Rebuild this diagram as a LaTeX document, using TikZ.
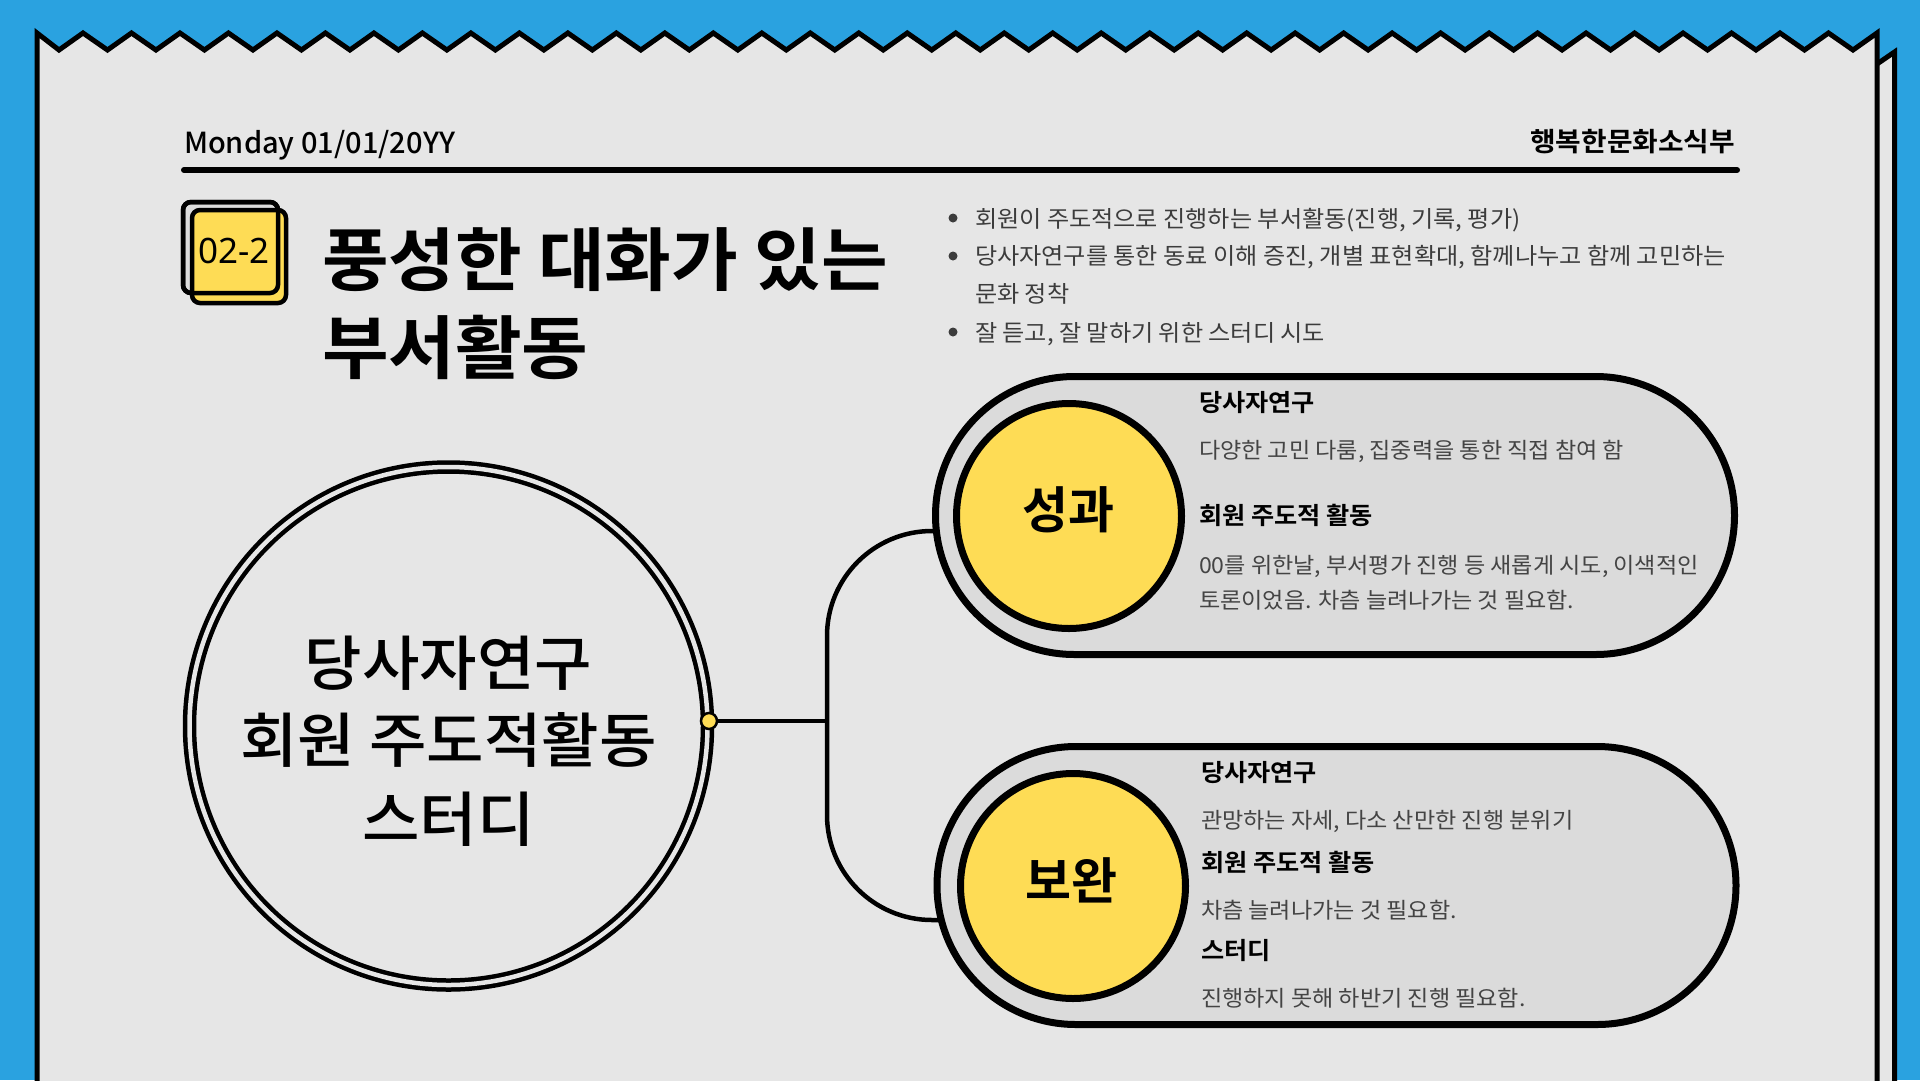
\documentclass[tikz,border=0pt]{standalone}
\usepackage{fontspec}
\setmainfont{Noto Sans CJK KR}
\newfontfamily\krreg{Noto Sans CJK KR}[FakeStretch=1.05]
\newfontfamily\krmed{Noto Sans CJK KR Medium}
\newfontfamily\krmedw{Noto Sans CJK KR Medium}[FakeStretch=1.05]
\newfontfamily\krbold{Noto Sans CJK KR Bold}
\newfontfamily\krboldw{Noto Sans CJK KR Bold}[FakeStretch=1.05]
\newfontfamily\latinsans{Noto Sans}
\usetikzlibrary{shapes.misc}
\definecolor{bgblue}{HTML}{2AA2E0}
\definecolor{paper}{HTML}{E6E6E6}
\definecolor{pillgrey}{HTML}{DBDBDB}
\definecolor{badgegrey}{HTML}{DCDCDC}
\definecolor{sunny}{HTML}{FEDC55}
\definecolor{bodytext}{HTML}{3C3C3C}
\definecolor{pilltext}{HTML}{444444}
\newcommand\fsz[1]{\fontsize{#1}{#1}\selectfont}
\begin{document}
\begin{tikzpicture}[x=1pt,y=-1pt,
  paperline/.style={draw=black,line width=5pt,line join=miter,fill=paper},
  txt/.style={inner sep=0pt,outer sep=0pt},
  badgebox/.style={draw=black,line width=4.5pt,rounded corners=8pt},
  bullettxt/.style={txt,anchor=base west,text=bodytext,font=\krreg\fsz{23}},
  pillhead/.style={txt,anchor=base west,text=black,font=\krboldw\fsz{24}},
  pillbody/.style={txt,anchor=base west,text=pilltext,font=\krreg\fsz{22}},
  pillbox/.style={rounded rectangle,draw=black,line width=7pt,fill=pillgrey,
    minimum width=799pt,minimum height=278pt,inner sep=0pt},
  yellowdisc/.style={circle,draw=black,line width=7pt,fill=sunny,minimum size=225pt,inner sep=0pt},
  bigtxt/.style={txt,anchor=base,text=black,font=\krmedw\fsz{59.5}},
  wire/.style={draw=black,line width=4.5pt}
]
\useasboundingbox (0,0) rectangle (1920,1080);
\fill[bgblue] (0,0) rectangle (1920,1080);

% back sheet
\draw[paperline] (1877,64) -- (1894.5,52) -- (1894.5,1095) -- (1877,1095);
% front sheet with zigzag top
\draw[paperline] (37,33)
  \foreach \k in {0,...,36} { -- ({59+48.486*\k},50) -- ({83+48.486*\k},33) }
  -- (1853,50) -- (1877,33) -- (1877,1095) -- (37,1095) -- cycle;

% header
\node[txt,anchor=base west,font=\krmed\fsz{29}] (date) at (184,153) {Monday 01/01/20YY};
\node[txt,anchor=base east,font=\krboldw\fsz{26.5}] (dept) at (1735,151.5) {행복한문화소식부};
\draw[line width=6pt,line cap=round] (184,170) -- (1737,170);

% badge
\draw[badgebox,fill=badgegrey] (183,202) rectangle (278,293);
\draw[badgebox,fill=sunny] (192,210) rectangle (286,303);
\draw[badgebox] (183,202) rectangle (278,293);
\node[txt,font=\latinsans\fsz{35}] (badge) at (234,251) {02-2};

% title
\node[txt,anchor=base west,font=\krboldw\fsz{69}] (title1) at (322,285) {풍성한 대화가 있는};
\node[txt,anchor=base west,font=\krboldw\fsz{69}] (title2) at (322,373) {부서활동};

% bullets
\fill[bodytext] (953,218) circle (4.5pt);
\fill[bodytext] (953,256) circle (4.5pt);
\fill[bodytext] (953,332) circle (4.5pt);
\node[bullettxt] (l1) at (975,227) {회원이 주도적으로 진행하는 부서활동(진행, 기록, 평가)};
\node[bullettxt] (l2) at (975,264) {당사자연구를 통한 동료 이해 증진, 개별 표현확대, 함께나누고 함께 고민하는};
\node[bullettxt] (l3) at (975,302) {문화 정착};
\node[bullettxt] (l4) at (975,341) {잘 듣고, 잘 말하기 위한 스터디 시도};

% main circle
\node[circle,draw=black,line width=4.5pt,double=paper,double distance=4.5pt,fill=paper,
  minimum size=518pt,inner sep=0pt] (main) at (448.5,726) {};
\node[bigtxt] (m1) at (448.5,685) {당사자연구};
\node[bigtxt] (m2) at (448.5,762) {회원 주도적활동};
\node[bigtxt] (m3) at (448.5,841) {스터디};

% pills
\node[pillbox] (pill1) at (1335,515.5) {};
\node[pillbox] (pill2) at (1336.5,885.5) {};
\node[yellowdisc] (c1) at (1069,516) {};
\node[yellowdisc] (c2) at (1073,886) {};
\node[txt,font=\krbold\fsz{50}] (c1t) at (1068,510) {성과};
\node[txt,font=\krbold\fsz{50}] (c2t) at (1071,880) {보완};

% connectors
\node[circle,draw=black,line width=2.5pt,fill=sunny,minimum size=16pt,inner sep=0pt] (dot) at (709,721) {};
\coordinate (junction) at (827,721);
\coordinate (end1) at (934,531);
\coordinate (end2) at (940,920);
\draw[wire] (dot.east) -- (junction);
\draw[wire,rounded corners=105pt] (end1) -- (827,531) -- (827,920) -- (end2);

% pill 1 text
\node[pillhead] (p1a) at (1199,411) {당사자연구};
\node[pillbody] (p1b) at (1199,458) {다양한 고민 다룸, 집중력을 통한 직접 참여 함};
\node[pillhead] (p1c) at (1199,524) {회원 주도적 활동};
\node[pillbody] (p1d) at (1199,573) {00를 위한날, 부서평가 진행 등 새롭게 시도, 이색적인};
\node[pillbody] (p1e) at (1199,608) {토론이었음. 차츰 늘려나가는 것 필요함.};

% pill 2 text
\node[pillhead] (p2a) at (1201,781) {당사자연구};
\node[pillbody] (p2b) at (1201,828) {관망하는 자세, 다소 산만한 진행 분위기};
\node[pillhead] (p2c) at (1201,871) {회원 주도적 활동};
\node[pillbody] (p2d) at (1201,918) {차츰 늘려나가는 것 필요함.};
\node[pillhead] (p2e) at (1201,959) {스터디};
\node[pillbody] (p2f) at (1201,1006) {진행하지 못해 하반기 진행 필요함.};
\end{tikzpicture}
\end{document}
